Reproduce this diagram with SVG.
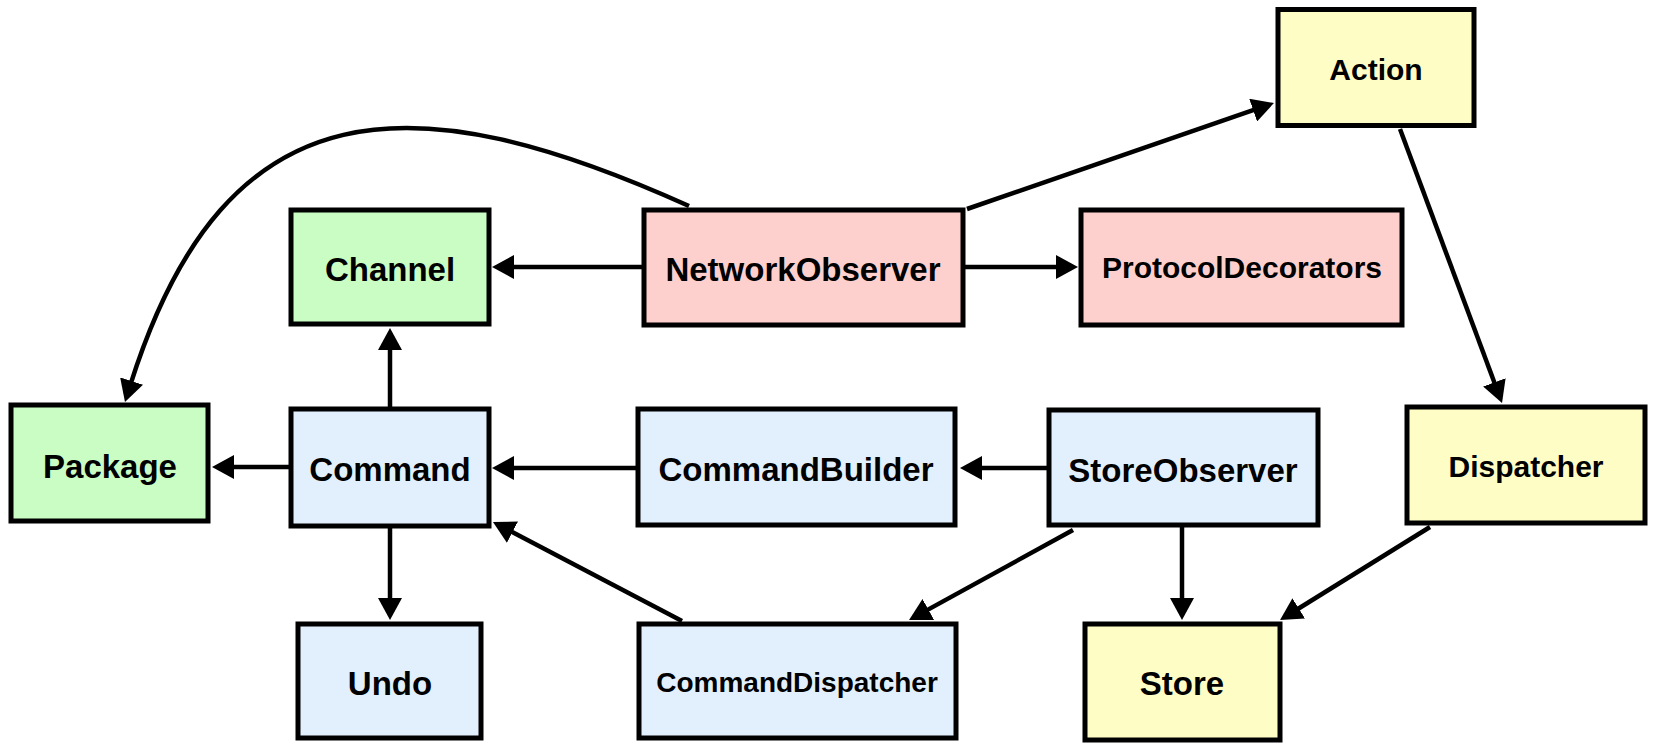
<svg xmlns="http://www.w3.org/2000/svg" width="1658" height="750" viewBox="0 0 1658 750">
<style>
.box{stroke:#000;stroke-width:5}
.g{fill:#c9fdc4}.p{fill:#fdd0cd}.b{fill:#e2f0fe}.y{fill:#fffdc6}
text{font-family:"Liberation Sans",Arial,Helvetica,sans-serif;font-weight:bold;text-anchor:middle;fill:#000}
.c{fill:none;stroke:#000;stroke-width:4.5;marker-end:url(#ah)}
</style>
<defs>
<marker id="ah" viewBox="0 0 22 24" refX="3" refY="12" markerWidth="22" markerHeight="24" markerUnits="userSpaceOnUse" orient="auto">
<path d="M0,0 L22,12 L0,24 z" fill="#000"/>
</marker>
</defs>
<g id="connectors">
<path class="c" d="M642,267 L511,267"/>
<path class="c" d="M965,267 L1059,267"/>
<path class="c" d="M967,209 L1256,109.2"/>
<path class="c" d="M689,206 C416,83 226.7,79.9 130.7,383.9"/>
<path class="c" d="M390,407 L390,347"/>
<path class="c" d="M289,467 L231,467"/>
<path class="c" d="M390,528 L390,601"/>
<path class="c" d="M636,468 L511,468"/>
<path class="c" d="M1047,468 L979,468"/>
<path class="c" d="M682,621 L509.8,530.8"/>
<path class="c" d="M1073,530 L925.7,610.9"/>
<path class="c" d="M1182,527 L1182,601"/>
<path class="c" d="M1400,129 L1495.4,385.2"/>
<path class="c" d="M1430,527 L1296.2,610"/>
</g>
<g id="Action"><rect class="box y" x="1278" y="9.5" width="196" height="116"/><text x="1376" y="80" font-size="30">Action</text></g>
<g id="Channel"><rect class="box g" x="291" y="210" width="198" height="114"/><text x="390" y="281" font-size="33">Channel</text></g>
<g id="NetworkObserver"><rect class="box p" x="644" y="210" width="319" height="115"/><text x="803" y="281" font-size="33">NetworkObserver</text></g>
<g id="ProtocolDecorators"><rect class="box p" x="1081" y="210" width="321" height="115"/><text x="1242" y="278" font-size="30">ProtocolDecorators</text></g>
<g id="Package"><rect class="box g" x="11" y="405" width="197" height="116"/><text x="110" y="478" font-size="33">Package</text></g>
<g id="Command"><rect class="box b" x="291" y="409" width="198" height="117"/><text x="390" y="481" font-size="33">Command</text></g>
<g id="CommandBuilder"><rect class="box b" x="638" y="409" width="317" height="116"/><text x="796" y="481" font-size="33">CommandBuilder</text></g>
<g id="StoreObserver"><rect class="box b" x="1049" y="410" width="269" height="115"/><text x="1183" y="482" font-size="33">StoreObserver</text></g>
<g id="Dispatcher"><rect class="box y" x="1407" y="407" width="238" height="116"/><text x="1526" y="477" font-size="30">Dispatcher</text></g>
<g id="Undo"><rect class="box b" x="298" y="624" width="183" height="114"/><text x="390" y="695" font-size="33">Undo</text></g>
<g id="CommandDispatcher"><rect class="box b" x="639" y="624" width="317" height="114"/><text x="797" y="692" font-size="28">CommandDispatcher</text></g>
<g id="Store"><rect class="box y" x="1085" y="624" width="195" height="116"/><text x="1182" y="695" font-size="33">Store</text></g>
</svg>
